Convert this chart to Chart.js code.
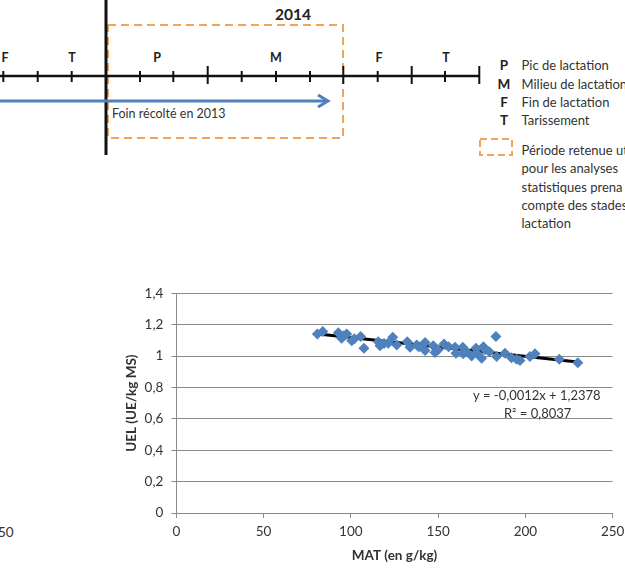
<!DOCTYPE html>
<html>
<head>
<meta charset="utf-8">
<script src="https://cdn.jsdelivr.net/npm/chart.js@4"></script>
<style>
  html, body { margin: 0; padding: 0; background: #fff; }
  body { width: 625px; height: 570px; position: relative; overflow: hidden; font-family: Lato, sans-serif; }
  #diagram { position: absolute; left: 0; top: 0; }
  #chartBox { position: absolute; left: 120px; top: 280px; width: 505px; height: 290px; }
  .stray { position: absolute; left: -2px; top: 524px; font-size: 13.5px; color: #333; }
</style>
</head>
<body>
<svg id="diagram" width="625" height="245" xmlns="http://www.w3.org/2000/svg" font-family="Lato, sans-serif">
  <!-- cadre orange : période retenue -->
  <rect x="108" y="25" width="235" height="113" fill="none" stroke="#f0a35a" stroke-width="2" stroke-dasharray="8 5"/>
  <!-- axe du temps -->
  <line x1="0" y1="76" x2="479.3" y2="76" stroke="#111" stroke-width="2.5"/>
  <g stroke="#111" stroke-width="2">
    <line x1="3.3" y1="71" x2="3.3" y2="82"/>
    <line x1="37.7" y1="71" x2="37.7" y2="82"/>
    <line x1="71.7" y1="71" x2="71.7" y2="82"/>
    <line x1="140" y1="71" x2="140" y2="82"/>
    <line x1="173.3" y1="71" x2="173.3" y2="82"/>
    <line x1="207.7" y1="66" x2="207.7" y2="84"/>
    <line x1="241.7" y1="71" x2="241.7" y2="82"/>
    <line x1="276" y1="71" x2="276" y2="82"/>
    <line x1="310" y1="71" x2="310" y2="82"/>
    <line x1="343.3" y1="66" x2="343.3" y2="84"/>
    <line x1="377.7" y1="71" x2="377.7" y2="82"/>
    <line x1="411.7" y1="66" x2="411.7" y2="84"/>
    <line x1="445" y1="71" x2="445" y2="82"/>
    <line x1="479.3" y1="66" x2="479.3" y2="84"/>
  </g>
  <line x1="106" y1="0" x2="106" y2="155" stroke="#111" stroke-width="3"/>
  <g font-size="12.5" font-weight="bold" fill="#222" text-anchor="middle">
    <text x="5" y="61.5">F</text>
    <text x="72" y="61.5">T</text>
    <text x="157" y="61.5">P</text>
    <text x="276" y="61.5">M</text>
    <text x="379" y="61.5">F</text>
    <text x="446" y="61.5">T</text>
  </g>
  <text x="293" y="19.5" font-size="15.5" font-weight="bold" fill="#222" text-anchor="middle">2014</text>
  <!-- flèche bleue -->
  <line x1="0" y1="101" x2="326" y2="101" stroke="#4f81bd" stroke-width="3"/>
  <polyline points="318,95 328,101 318,107" fill="none" stroke="#4f81bd" stroke-width="3"/>
  <text x="112" y="117.5" font-size="12.5" fill="#333">Foin récolté en 2013</text>
  <!-- légende -->
  <g font-size="13.5" font-weight="bold" fill="#222" text-anchor="middle">
    <text x="504" y="70">P</text>
    <text x="504" y="88.5">M</text>
    <text x="504" y="106.5">F</text>
    <text x="504" y="125">T</text>
  </g>
  <g font-size="13" fill="#333">
    <text x="521.5" y="70">Pic de lactation</text>
    <text x="521.5" y="88.5">Milieu de lactation</text>
    <text x="521.5" y="106.5">Fin de lactation</text>
    <text x="521.5" y="125">Tarissement</text>
    <text x="521.5" y="155">Période retenue ut</text>
    <text x="521.5" y="173">pour les analyses</text>
    <text x="521.5" y="191.5">statistiques  prena</text>
    <text x="521.5" y="210">compte des stades</text>
    <text x="521.5" y="228">lactation</text>
  </g>
  <rect x="480" y="139" width="32" height="16" fill="none" stroke="#f0a35a" stroke-width="2" stroke-dasharray="7 4"/>
</svg>

<div class="stray">50</div>

<div id="chartBox"><canvas id="myChart" width="505" height="290"></canvas></div>

<script>
// MAT (g/kg) et UEL (UE/kg MS)
const matValues = [
  80.8, 83.9, 92.8, 94.7, 96.0, 97.6, 100.5, 102.0, 105.6, 107.5,
  115.7, 116.7, 119.0, 121.4, 124.0, 126.3, 132.3, 133.9, 137.7, 139.0,
  142.5, 142.5, 147.2, 148.2, 150.0, 153.4, 156.0, 159.7, 160.2, 164.1,
  164.4, 166.0, 169.2, 171.7, 172.0, 174.9, 175.9, 177.0, 179.3, 183.1,
  183.5, 188.3, 192.0, 195.0, 196.9, 202.6, 205.5, 219.4, 230.0
];
const uelValues = [
  1.141, 1.156, 1.149, 1.114, 1.130, 1.141, 1.098, 1.110, 1.124, 1.050,
  1.092, 1.065, 1.080, 1.082, 1.120, 1.071, 1.092, 1.056, 1.071, 1.060,
  1.086, 1.035, 1.065, 1.022, 1.040, 1.077, 1.060, 1.056, 1.018, 1.056,
  1.014, 1.030, 1.001, 1.050, 1.020, 0.986, 1.060, 1.040, 1.028, 1.124,
  0.997, 1.018, 0.990, 0.980, 0.971, 0.997, 1.014, 0.980, 0.958
];

// courbe de tendance linéaire (extrémités)
const trendX = [80, 230];
const trendY = [1.142, 0.962];
const trendText = ['y = -0,0012x + 1,2378', 'R² = 0,8037'];

const xTicks = [0, 50, 100, 150, 200, 250];
const yTicks = [0, 0.2, 0.4, 0.6, 0.8, 1, 1.2, 1.4];

const points = matValues.map((v, i) => ({x: v, y: uelValues[i]}));
const trendPoints = trendX.map((v, i) => ({x: v, y: trendY[i]}));

const gridColor = '#8c8c8c';
const textColor = '#333';
const fontFamily = 'Lato, sans-serif';

const trendLabel = {
  id: 'trendLabel',
  afterDatasetsDraw(chart) {
    const {ctx, scales: {x, y}} = chart;
    ctx.save();
    ctx.font = `13px ${fontFamily}`;
    ctx.fillStyle = textColor;
    ctx.textAlign = 'center';
    ctx.textBaseline = 'middle';
    // ancré sous l'extrémité droite de la tendance, comme dans Excel
    ctx.fillText(trendText[0], x.getPixelForValue(206.5), y.getPixelForValue(0.747));
    ctx.fillText(trendText[1], x.getPixelForValue(207), y.getPixelForValue(0.632));
    ctx.restore();
  }
};

const fmt = v => String(Math.round(v * 10) / 10).replace('.', ',');

new Chart(document.getElementById('myChart'), {
  type: 'scatter',
  data: {
    datasets: [
      {
        label: 'UEL',
        data: points,
        pointStyle: 'rectRot',
        pointRadius: 5.5,
        pointHoverRadius: 5.5,
        backgroundColor: '#4f81bd',
        borderColor: '#4f81bd',
        borderWidth: 0,
      },
      {
        label: 'Linéaire',
        type: 'line',
        data: trendPoints,
        borderColor: '#000',
        borderWidth: 3,
        pointRadius: 0,
        fill: false,
      }
    ]
  },
  options: {
    responsive: false,
    animation: false,
    events: [],
    layout: {padding: {top: 13.3, right: 12.3, left: 0, bottom: 0}},
    plugins: {legend: {display: false}, tooltip: {enabled: false}},
    scales: {
      x: {
        type: 'linear',
        min: 0,
        max: 250,
        afterBuildTicks: s => { s.ticks = xTicks.map(v => ({value: v})); },
        afterFit: s => { s.height = 57; s.paddingLeft = 0; s.paddingRight = 0; },
        ticks: {color: textColor, font: {family: fontFamily, size: 13.5}, padding: 6, maxRotation: 0, callback: fmt},
        grid: {drawOnChartArea: false, color: gridColor, tickLength: 5},
        border: {color: gridColor},
        title: {display: true, text: 'MAT (en g/kg)', color: textColor,
          font: {family: fontFamily, size: 13.5, weight: 'bold'}, padding: {top: 0, bottom: 6}}
      },
      y: {
        type: 'linear',
        min: 0,
        max: 1.4,
        afterBuildTicks: s => { s.ticks = yTicks.map(v => ({value: v})); },
        afterFit: s => { s.width = 56.3; s.paddingTop = 0; s.paddingBottom = 0; },
        ticks: {color: textColor, font: {family: fontFamily, size: 13.5}, padding: 8, callback: fmt},
        grid: {color: gridColor, tickLength: 5},
        border: {color: gridColor},
        title: {display: true, text: 'UEL (UE/kg MS)', color: textColor,
          font: {family: fontFamily, size: 13.5, weight: 'bold'}, padding: {top: 4, bottom: 0}}
      }
    }
  },
  plugins: [trendLabel]
});
</script>
</body>
</html>
